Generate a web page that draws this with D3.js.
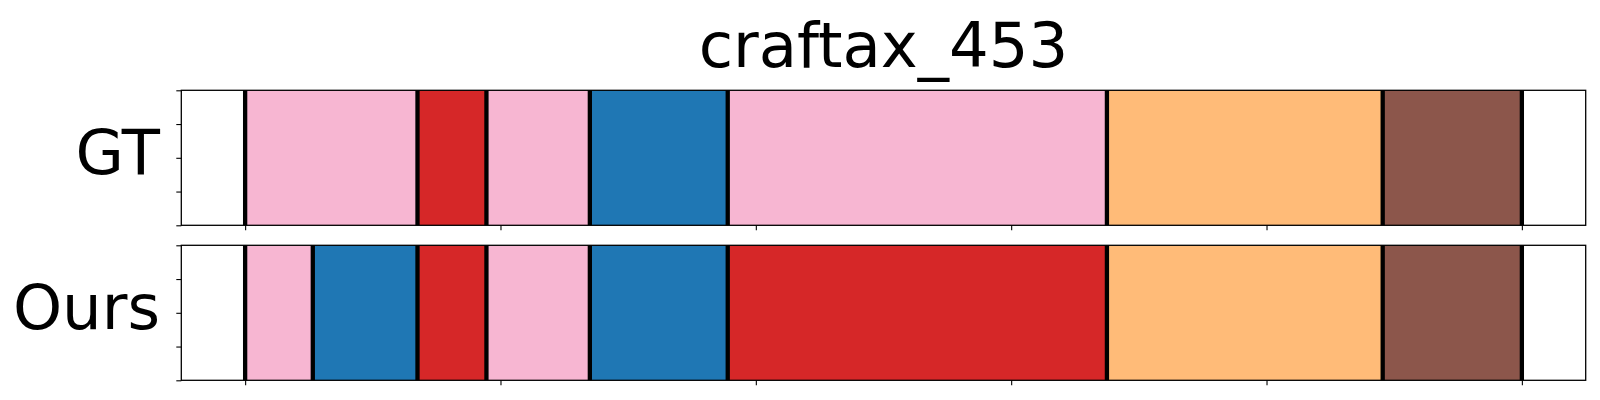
<!DOCTYPE html>
<html>
<head>
<meta charset="utf-8">
<script src="https://cdn.jsdelivr.net/npm/d3@7"></script>
<style>
html,body{margin:0;padding:0;background:#fff;}
svg{display:block;font-family:"DejaVu Sans",sans-serif;}
</style>
</head>
<body>
<svg id="chart" width="1600" height="400"></svg>
<script>
const title = "craftax_453";
const rowLabels = ["GT", "Ours"];
const totalLength = 1000;
const xTicks = [0, 200, 400, 600, 800, 1000];
const yTicks = [0, 0.25, 0.5, 0.75, 1];
// segment boundaries (start, end) and class for each row
const gtStarts = [0, 135, 189, 270, 378, 675, 891];
const gtEnds   = [135, 189, 270, 378, 675, 891, 1000];
const gtClass  = ["pink", "red", "pink", "blue", "pink", "orange", "brown"];
const oursStarts = [0, 53, 135, 189, 270, 378, 675, 891];
const oursEnds   = [53, 135, 189, 270, 378, 675, 891, 1000];
const oursClass  = ["pink", "blue", "red", "pink", "blue", "red", "orange", "brown"];
const classNames = ["pink", "red", "blue", "orange", "brown"];
const classColors = ["#f7b6d2", "#d62728", "#1f77b4", "#ffbb78", "#8c564b"];

const svg = d3.select("#chart");
const left = 181.3, right = 1585.7;
const panels = [
  {label: rowLabels[0], top: 90.3, bottom: 225.3, starts: gtStarts, ends: gtEnds, cls: gtClass},
  {label: rowLabels[1], top: 245.3, bottom: 380.3, starts: oursStarts, ends: oursEnds, cls: oursClass}
];
const x = d3.scaleLinear().domain([-0.05 * totalLength, 1.05 * totalLength]).range([left, right]);
const color = d3.scaleOrdinal().domain(classNames).range(classColors);

svg.append("text")
  .attr("x", (left + right) / 2).attr("y", 66.5)
  .attr("text-anchor", "middle")
  .attr("font-size", 62.5).attr("fill", "#000")
  .text(title);

panels.forEach(p => {
  const y = d3.scaleLinear().domain([0, 1]).range([p.bottom, p.top]);
  const g = svg.append("g");
  const segs = p.starts.map((s, i) => ({s, e: p.ends[i], c: p.cls[i]}));
  g.selectAll("rect.seg").data(segs).enter().append("rect")
    .attr("class", "seg")
    .attr("x", d => x(d.s)).attr("width", d => x(d.e) - x(d.s))
    .attr("y", y(1)).attr("height", y(0) - y(1))
    .attr("fill", d => color(d.c));
  const bounds = p.starts.concat([p.ends[p.ends.length - 1]]);
  g.selectAll("line.b").data(bounds).enter().append("line")
    .attr("class", "b")
    .attr("x1", d => x(d)).attr("x2", d => x(d))
    .attr("y1", y(1)).attr("y2", y(0))
    .attr("stroke", "#000").attr("stroke-width", 4.3);
  // frame
  g.append("rect").attr("x", left).attr("y", p.top)
    .attr("width", right - left).attr("height", p.bottom - p.top)
    .attr("fill", "none").attr("stroke", "#000").attr("stroke-width", 1.3);
  // axes ticks (no labels)
  const xa = d3.axisBottom(x).tickValues(xTicks).tickFormat("").tickSize(5).tickSizeOuter(0);
  const xg = g.append("g").attr("transform", `translate(0,${p.bottom})`).call(xa);
  xg.select(".domain").remove();
  xg.selectAll("line").attr("stroke-width", 1.1);
  const ya = d3.axisLeft(y).tickValues(yTicks).tickFormat("").tickSize(5).tickSizeOuter(0);
  const yg = g.append("g").attr("transform", `translate(${left},0)`).call(ya);
  yg.select(".domain").remove();
  yg.selectAll("line").attr("stroke-width", 1.1);
  g.append("text")
    .attr("x", 160).attr("y", (p.top + p.bottom) / 2 + 16.5)
    .attr("text-anchor", "end").attr("font-size", 62.5).attr("fill", "#000")
    .text(p.label);
});
</script>
</body>
</html>
